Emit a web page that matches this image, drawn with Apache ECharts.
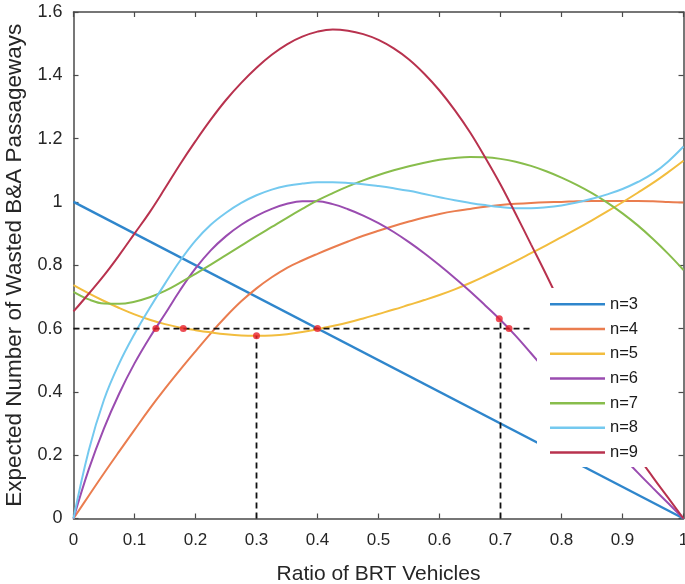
<!DOCTYPE html>
<html>
<head>
<meta charset="utf-8">
<script src="https://cdn.jsdelivr.net/npm/echarts@6/dist/echarts.min.js"></script>
<style>html,body{margin:0;padding:0;background:#fff;width:100%;height:100%;overflow:hidden;}#c{width:100vw;height:100vh;}</style>
</head>
<body>
<div id="c"></div>
<script>
// ---- data ----
const xs = [0,0.025,0.05,0.075,0.1,0.125,0.15,0.175,0.2,0.225,0.25,0.275,0.3,0.325,0.35,0.375,0.4,0.425,0.45,0.475,0.5,
            0.525,0.55,0.575,0.6,0.625,0.65,0.675,0.7,0.725,0.75,0.775,0.8,0.825,0.85,0.875,0.9,0.925,0.95,0.975,1];
const seriesNames = ['n=3','n=4','n=5','n=6','n=7','n=8','n=9'];
const xs3 = [0,1];
const n3 = [1,0];
const n4 = [0,0.072,0.143,0.212,0.28,0.347,0.41,0.47,0.528,0.585,0.638,0.686,0.727,0.762,0.792,0.815,0.836,0.856,0.875,0.893,0.909,
            0.924,0.938,0.951,0.962,0.971,0.978,0.985,0.99,0.994,0.997,0.999,1.0,1.002,1.003,1.003,1.003,1.003,1.002,1.0,0.998];
const n5 = [0.737,0.711,0.687,0.665,0.645,0.628,0.614,0.603,0.595,0.588,0.582,0.578,0.577,0.578,0.582,0.589,0.598,0.608,0.619,0.632,0.646,
            0.66,0.675,0.69,0.706,0.724,0.744,0.766,0.789,0.813,0.838,0.863,0.889,0.915,0.942,0.97,0.999,1.029,1.06,1.094,1.13];
const n6 = [0,0.155,0.285,0.395,0.49,0.572,0.646,0.722,0.79,0.847,0.892,0.928,0.956,0.978,0.994,1.002,1.002,0.993,0.977,0.957,0.933,
            0.905,0.873,0.838,0.8,0.76,0.718,0.673,0.627,0.577,0.522,0.466,0.41,0.355,0.3,0.248,0.196,0.145,0.096,0.048,0];
const n7 = [0.716,0.692,0.679,0.678,0.685,0.699,0.719,0.745,0.773,0.802,0.832,0.862,0.892,0.921,0.95,0.978,1.005,1.028,1.049,1.068,1.085,
            1.1,1.113,1.124,1.133,1.139,1.142,1.141,1.136,1.127,1.114,1.097,1.077,1.054,1.028,0.998,0.964,0.926,0.883,0.836,0.785];
const n8 = [0,0.215,0.375,0.49,0.583,0.665,0.742,0.815,0.878,0.928,0.966,0.997,1.021,1.039,1.051,1.058,1.062,1.062,1.06,1.056,1.05,
            1.043,1.035,1.025,1.015,1.005,0.997,0.99,0.984,0.98,0.98,0.983,0.989,0.998,1.01,1.024,1.041,1.063,1.09,1.128,1.175];
const n9 = [0.654,0.71,0.768,0.832,0.9,0.968,1.043,1.12,1.192,1.26,1.322,1.376,1.424,1.465,1.498,1.522,1.538,1.545,1.541,1.53,1.512,
            1.485,1.45,1.405,1.352,1.29,1.22,1.14,1.055,0.962,0.866,0.77,0.67,0.57,0.47,0.38,0.29,0.2,0.13,0.065,0];
const seriesValues = [n4,n5,n6,n7,n8,n9];
const dashH = [[0,0.6],[0.753,0.6]];
const dashV1 = [[0.3,0],[0.3,0.577]];
const dashV2 = [[0.7,0],[0.7,0.631]];
const redDots = [[0.135,0.6],[0.18,0.6],[0.3,0.577],[0.4,0.6],[0.698,0.631],[0.714,0.6]];
const xTickLabels = ['0','0.1','0.2','0.3','0.4','0.5','0.6','0.7','0.8','0.9','1'];
const yTickLabels = ['0','0.2','0.4','0.6','0.8','1','1.2','1.4','1.6'];
const colors = ['#2f86cc','#ea7d4f','#f2bd3e','#9a4cb0','#88bd4c','#74c9ef','#b8324e'];

const chart = echarts.init(document.getElementById('c'), null, {renderer:'canvas'});
const axisColor = '#4a4a4a';
const txt = '#262626';
const lineSeries = [{
  name:seriesNames[0], type:'line', data: xs3.map((x,k)=>[x, n3[k]]),
  showSymbol:false, symbol:'none', lineStyle:{width:2.4, color:colors[0]}, itemStyle:{color:colors[0]}, z:2
}].concat(seriesValues.map((vals,j)=>({
  name:seriesNames[j+1], type:'line',
  data: xs.map((x,k)=>[x, vals[k]]),
  showSymbol:false, symbol:'none', smooth:0.4,
  lineStyle:{width:2, color:colors[j+1]},
  itemStyle:{color:colors[j+1]}, z:2
})));
const dashStyle = {color:'#111', width:1.8, type:[6,4]};
const dashSeries = [dashH,dashV1,dashV2].map(d=>({
  type:'line', data:d, symbol:'none', lineStyle:dashStyle, z:3, silent:true
}));
const option = {
  animation:false,
  backgroundColor:'#fff',
  textStyle:{fontFamily:'"Liberation Sans", Arial, sans-serif'},
  color:colors,
  grid:{left:73.5, right:1.5, top:12, bottom:65.5, containLabel:false, outerBoundsMode:'none'},
  legend:{
    data:seriesNames, orient:'vertical', left:537, top:288,
    icon:'rect', itemWidth:55, itemHeight:2.5, itemGap:0,
    textStyle:{fontSize:16.5, color:'#1a1a1a', lineHeight:24.7},
    backgroundColor:'#fff', padding:[4,40,2,13], z:10
  },
  xAxis:[{
    type:'value', min:0, max:1, interval:0.1, position:'bottom',
    axisLine:{show:true, onZero:false, lineStyle:{color:axisColor, width:1.5}},
    axisTick:{show:true, inside:true, length:5, lineStyle:{color:axisColor, width:1.2}},
    axisLabel:{fontSize:17, color:txt, margin:13, formatter:(v)=>xTickLabels[Math.round(v*10)]},
    splitLine:{show:false},
    name:'Ratio of BRT Vehicles', nameLocation:'middle', nameGap:45,
    nameTextStyle:{fontSize:21, color:txt}
  },{
    type:'value', min:0, max:1, interval:0.1, position:'top',
    axisLine:{show:true, onZero:false, lineStyle:{color:axisColor, width:1.5}},
    axisTick:{show:true, inside:true, length:5, lineStyle:{color:axisColor, width:1.2}},
    axisLabel:{show:false}, splitLine:{show:false}
  }],
  yAxis:[{
    type:'value', min:0, max:1.6, interval:0.2, position:'left',
    axisLine:{show:true, onZero:false, lineStyle:{color:axisColor, width:1.5}},
    axisTick:{show:true, inside:true, length:5, lineStyle:{color:axisColor, width:1.2}},
    axisLabel:{fontSize:18, color:txt, margin:11, formatter:(v)=>yTickLabels[Math.round(v*5)]},
    splitLine:{show:false},
    name:'Expected Number of Wasted B&A Passageways', nameLocation:'middle', nameGap:46,
    nameTextStyle:{fontSize:22.5, color:txt}
  },{
    type:'value', min:0, max:1.6, interval:0.2, position:'right',
    axisLine:{show:true, onZero:false, lineStyle:{color:axisColor, width:1.5}},
    axisTick:{show:true, inside:true, length:5, lineStyle:{color:axisColor, width:1.2}},
    axisLabel:{show:false}, splitLine:{show:false}
  }],
  series: lineSeries.concat(dashSeries).concat([{
    type:'scatter', data:redDots, symbol:'circle', symbolSize:7,
    itemStyle:{color:'#e8202a'}, z:5, silent:true
  }])
};
chart.setOption(option);
</script>
</body>
</html>
